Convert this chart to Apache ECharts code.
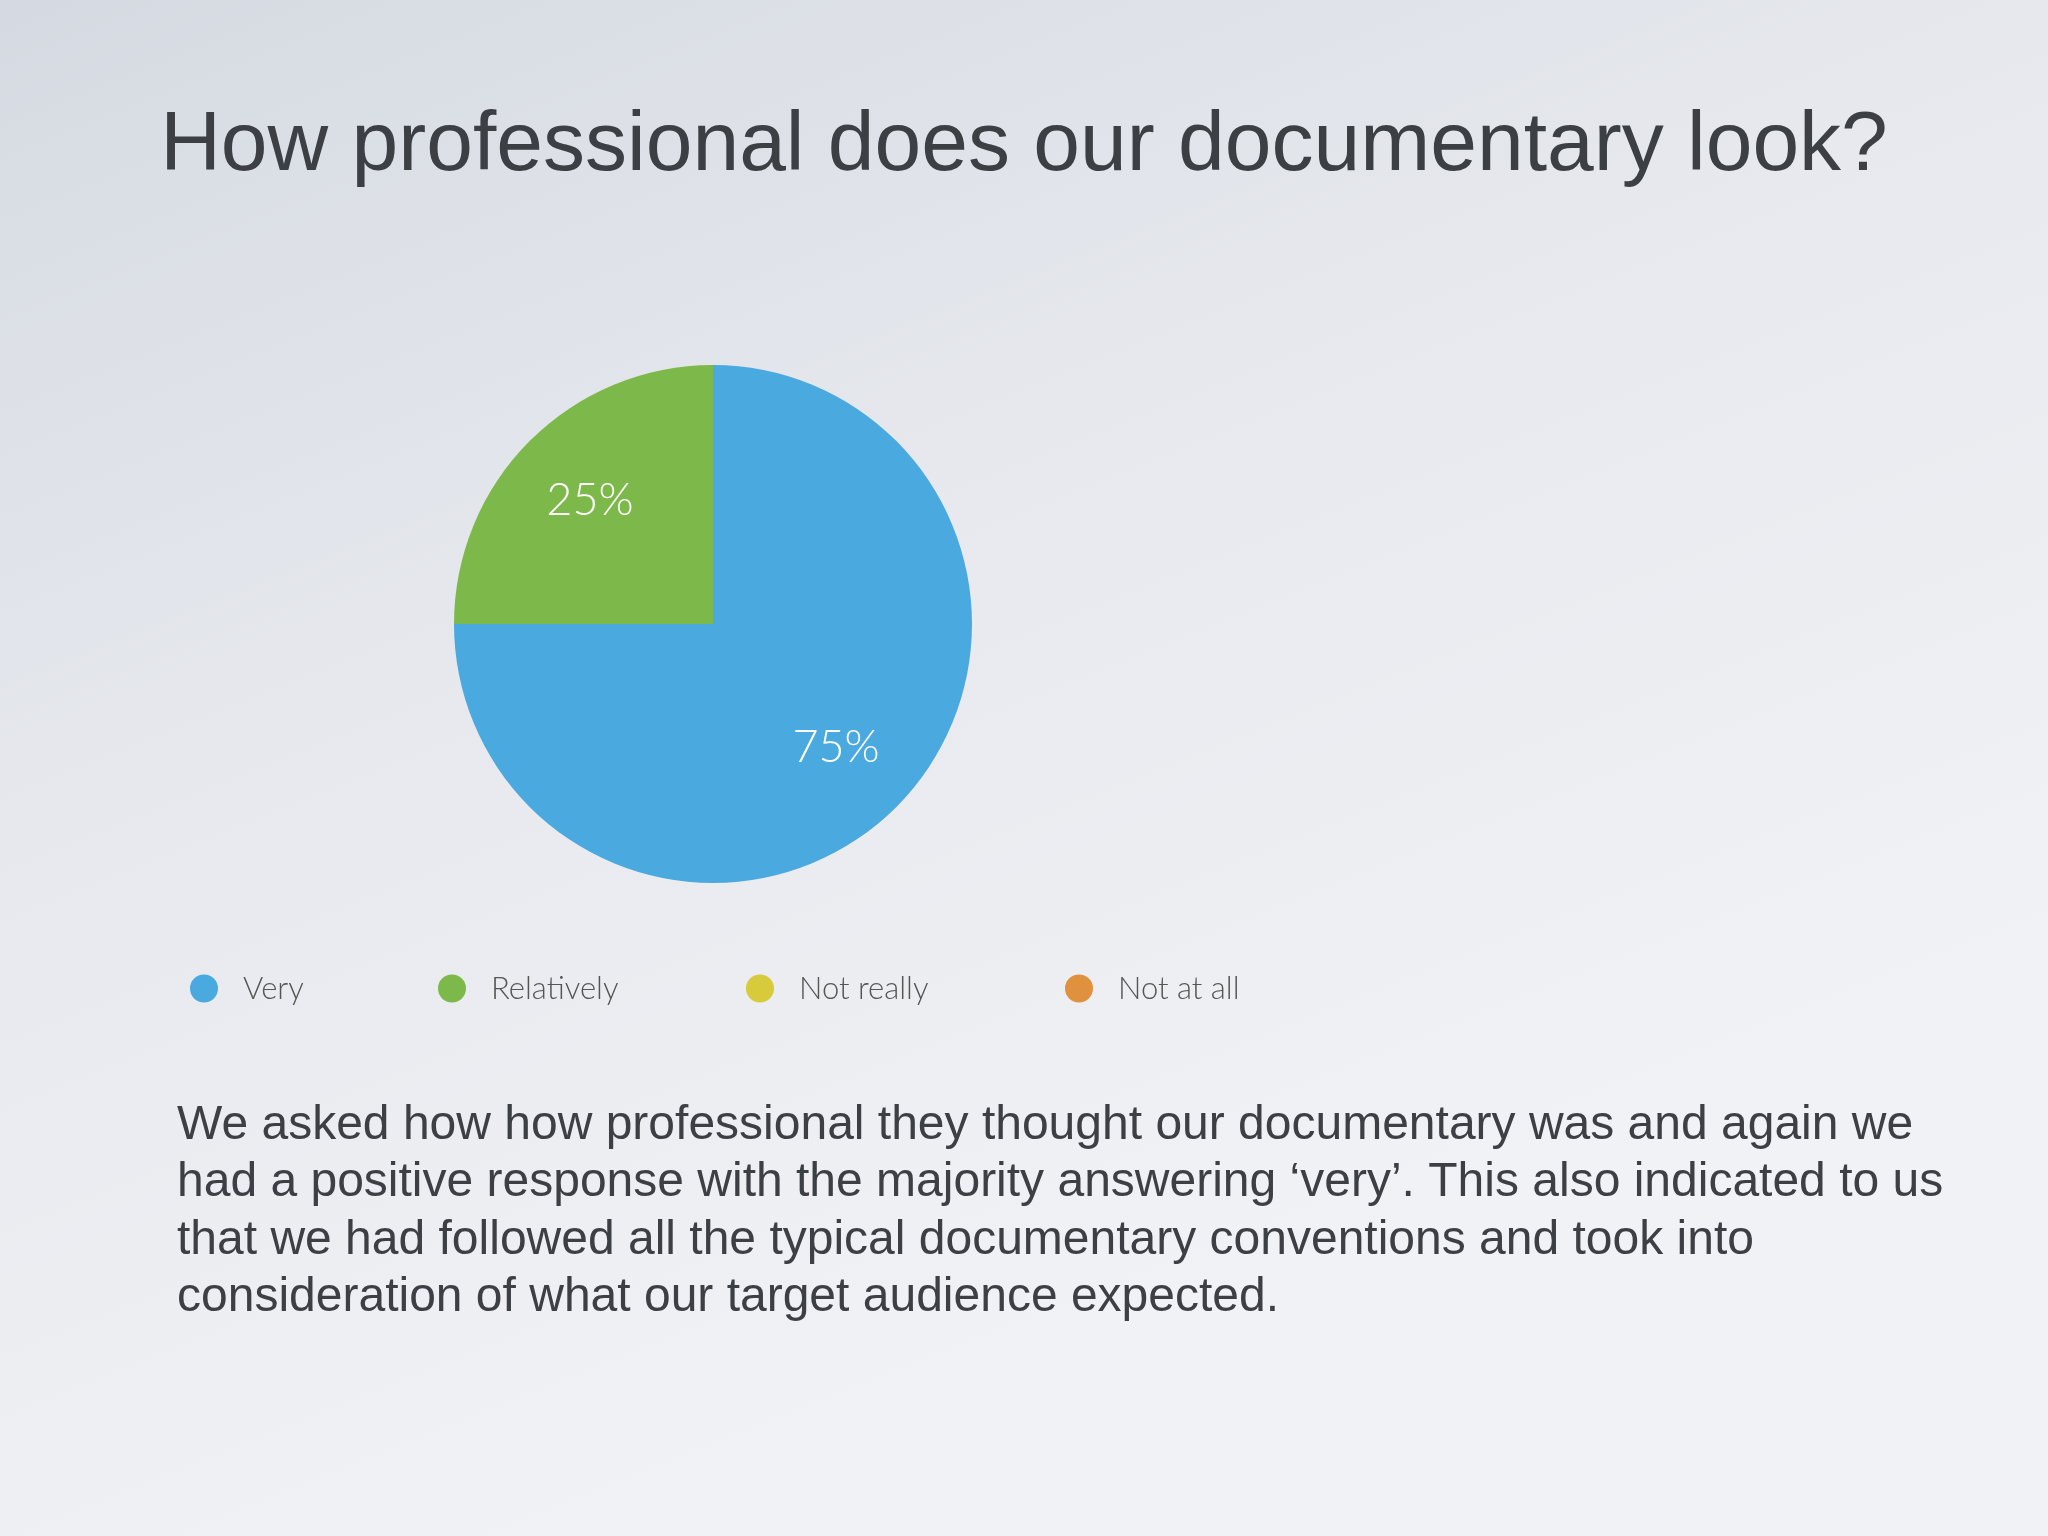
<!DOCTYPE html>
<html>
<head>
<meta charset="utf-8">
<title>How professional does our documentary look?</title>
<script src="https://cdn.jsdelivr.net/npm/echarts@6/dist/echarts.min.js"></script>
<style>
  html, body { margin: 0; padding: 0; }
  #main { width: 2048px; height: 1536px; }
</style>
</head>
<body>
<div id="main"></div>
<script>
// survey answers
const answers = ['Very', 'Relatively', 'Not really', 'Not at all'];
const shares = [75, 25, 0, 0];
const colors = ['#4aa9de', '#7cb94a', '#d8cb3b', '#e0913e'];

const titleText = 'How professional does our documentary look?';
const bodyText = [
  'We asked how how professional they thought our documentary was and again we',
  'had a positive response with the majority answering \u2018very\u2019. This also indicated to us',
  'that we had followed all the typical documentary conventions and took into',
  'consideration of what our target audience expected.'
];

// legend x positions (left edge of the dot)
const legendLeft = [190, 438, 746, 1065];

const pieData = answers.map((name, i) => ({
  name: name,
  value: shares[i],
  itemStyle: { color: colors[i] }
}));

const myChart = echarts.init(document.getElementById('main'));

myChart.setOption({
  backgroundColor: {
    type: 'linear', x: 0, y: 0, x2: 0.3, y2: 1,
    colorStops: [
      { offset: 0, color: '#d5dae2' },
      { offset: 0.5, color: '#e7e9ee' },
      { offset: 1, color: '#f1f2f5' }
    ]
  },
  title: [
    {
      text: titleText,
      left: 'center',
      top: 100,
      textStyle: {
        fontFamily: 'Liberation Sans, Arial, sans-serif',
        fontSize: 84,
        fontWeight: 'normal',
        color: '#3c3f44'
      }
    },
    {
      text: bodyText.join('\n'),
      left: 172,
      top: 1092,
      textStyle: {
        fontFamily: 'Liberation Sans, Arial, sans-serif',
        fontSize: 48,
        lineHeight: 57.5,
        fontWeight: 'normal',
        color: '#3c3f44'
      }
    }
  ],
  legend: answers.map((name, i) => ({
    data: [name],
    left: legendLeft[i],
    top: 973,
    padding: 0,
    icon: 'circle',
    itemWidth: 28,
    itemHeight: 28,
    itemGap: 0,
    selectedMode: false,
    textStyle: {
      fontFamily: 'Lato, sans-serif',
      fontWeight: 300,
      fontSize: 31,
      color: '#555',
      padding: [0, 0, 0, 20]
    }
  })),
  series: [
    {
      type: 'pie',
      center: [713, 624],
      radius: [0, 259],
      startAngle: 90,
      clockwise: true,
      silent: true,
      label: { show: false },
      labelLine: { show: false },
      itemStyle: { borderWidth: 0 },
      data: pieData
    },
    {
      // label-only ring so the percentages sit further out
      type: 'pie',
      center: [713, 624],
      radius: [0, 342],
      startAngle: 90,
      clockwise: true,
      silent: true,
      legendHoverLink: false,
      itemStyle: { color: 'rgba(0,0,0,0)' },
      labelLine: { show: false },
      label: {
        show: true,
        position: 'inside',
        formatter: p => (p.value > 0 ? p.value + '%' : ''),
        fontFamily: 'Lato, sans-serif',
        fontWeight: 300,
        fontSize: 45,
        color: '#ffffff'
      },
      data: answers.map((name, i) => ({ name: name, value: shares[i] }))
    }
  ]
});
</script>
</body>
</html>
